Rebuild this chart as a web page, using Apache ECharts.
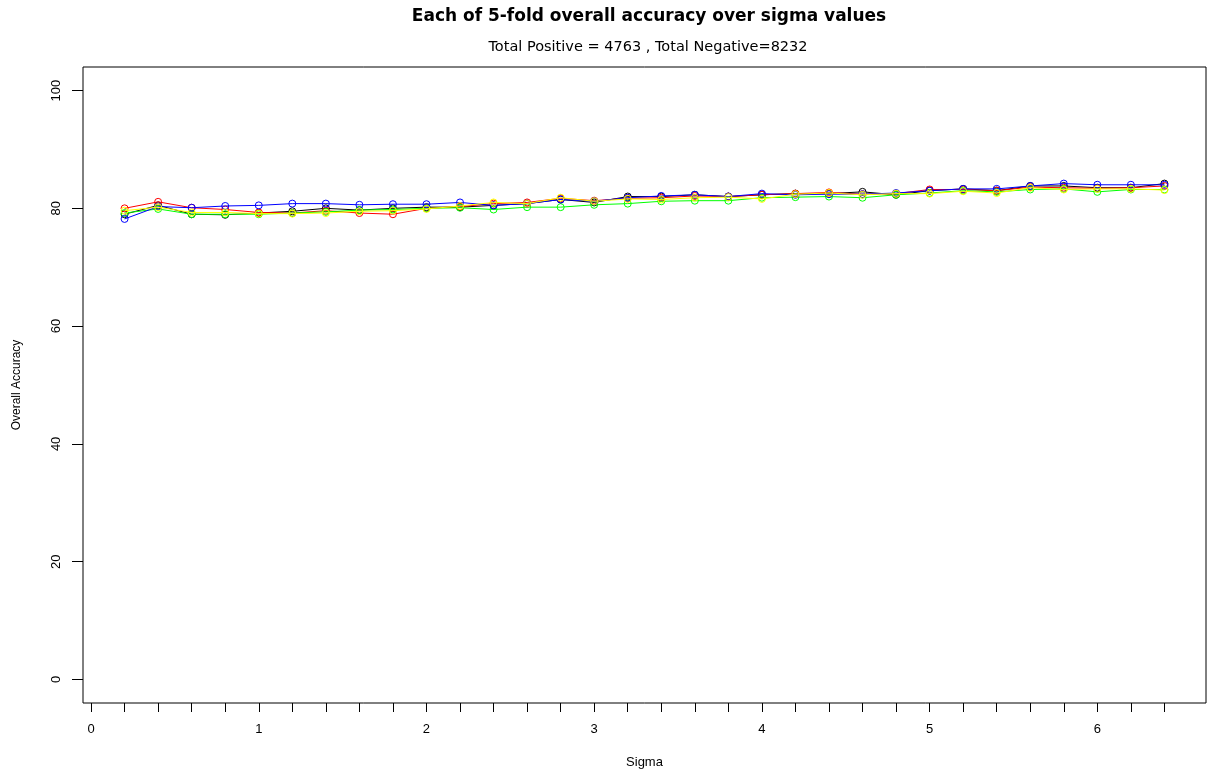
<!DOCTYPE html>
<html>
<head>
<meta charset="utf-8">
<script src="https://cdn.jsdelivr.net/npm/echarts@6/dist/echarts.min.js"></script>
<style>
  html, body { margin: 0; padding: 0; background: #fff; }
  #chart { width: 1212px; height: 774px; }
</style>
</head>
<body>
<div id="chart"></div>
<script>
// Sigma values evaluated in each fold
const sigma = [0.2, 0.4, 0.6, 0.8, 1.0, 1.2, 1.4, 1.6, 1.8, 2.0, 2.2, 2.4, 2.6, 2.8, 3.0, 3.2,
               3.4, 3.6, 3.8, 4.0, 4.2, 4.4, 4.6, 4.8, 5.0, 5.2, 5.4, 5.6, 5.8, 6.0, 6.2, 6.4];

// Overall accuracy (%) of each fold
const fold1 = [79.0, 80.5, 79.0, 78.9, 79.2, 79.5, 80.0, 79.7, 80.0, 80.2, 80.2, 80.5, 80.8, 81.5, 81.0, 82.0,
               82.0, 82.3, 82.0, 82.3, 82.5, 82.5, 82.8, 82.3, 83.0, 83.3, 83.0, 83.8, 83.8, 83.5, 83.5, 84.2];
const fold2 = [80.0, 81.1, 80.1, 79.8, 79.3, 79.2, 79.6, 79.2, 79.0, 80.0, 80.3, 80.8, 81.0, 81.7, 81.3, 81.7,
               81.8, 82.1, 82.0, 82.3, 82.5, 82.7, 82.4, 82.5, 83.2, 83.2, 83.0, 83.6, 83.5, 83.4, 83.5, 83.8];
const fold3 = [79.2, 79.9, 79.0, 79.0, 79.0, 79.2, 79.4, 79.7, 79.8, 80.0, 80.1, 79.8, 80.2, 80.2, 80.6, 80.8,
               81.2, 81.3, 81.3, 81.8, 81.9, 82.0, 81.8, 82.3, 82.6, 83.0, 82.8, 83.2, 83.3, 82.8, 83.2, 83.2];
const fold4 = [78.2, 80.3, 80.1, 80.4, 80.5, 80.8, 80.8, 80.6, 80.7, 80.7, 81.0, 80.5, 80.8, 81.5, 81.2, 81.8,
               82.1, 82.3, 82.0, 82.5, 82.3, 82.4, 82.4, 82.6, 83.0, 83.3, 83.3, 83.8, 84.2, 84.0, 84.0, 84.0];
const fold5 = [79.6, 80.2, 79.3, 79.3, 79.1, 79.1, 79.2, 79.5, 79.6, 79.9, 80.4, 81.0, 80.8, 81.8, 81.2, 81.6,
               81.5, 81.8, 81.9, 81.6, 82.4, 82.6, 82.3, 82.5, 82.5, 82.9, 82.6, 83.5, 83.2, 83.3, 83.3, 83.1];

const folds = [fold1, fold2, fold3, fold4, fold5];
const foldColors = ['#000000', '#ff0000', '#00ff00', '#0000ff', '#ffff00'];

// Axis ticks and labels
const xTickValues = [0, 0.2, 0.4, 0.6, 0.8, 1.0, 1.2, 1.4, 1.6, 1.8, 2.0, 2.2, 2.4, 2.6, 2.8, 3.0, 3.2,
                     3.4, 3.6, 3.8, 4.0, 4.2, 4.4, 4.6, 4.8, 5.0, 5.2, 5.4, 5.6, 5.8, 6.0, 6.2, 6.4];
const xLabelValues = [0, 1, 2, 3, 4, 5, 6];
const yLabelValues = [0, 20, 40, 60, 80, 100];

const FONT = '"Liberation Sans", Arial, sans-serif';
const TITLE_FONT = '"DejaVu Sans", "Liberation Sans", sans-serif';

const chart = echarts.init(document.getElementById('chart'), null, { renderer: 'canvas' });

const series = folds.map((vals, k) => ({
  type: 'line',
  data: sigma.map((s, i) => [s, vals[i]]),
  symbol: 'circle',
  symbolSize: 7,
  showSymbol: true,
  lineStyle: { color: foldColors[k], width: 1 },
  itemStyle: { color: 'rgba(0,0,0,0)', borderColor: foldColors[k], borderWidth: 1 },
  emphasis: { disabled: true },
  animation: false,
  z: 2 + k
}));

chart.setOption({
  backgroundColor: '#ffffff',
  animation: false,
  title: [
    {
      text: 'Each of 5-fold overall accuracy over sigma values',
      left: 644, top: 3, textAlign: 'center',
      textStyle: { fontFamily: TITLE_FONT, fontSize: 17, fontWeight: 'bold', color: '#000' }
    },
    {
      text: 'Total Positive = 4763 , Total Negative=8232',
      left: 643, top: 35, textAlign: 'center',
      textStyle: { fontFamily: TITLE_FONT, fontSize: 14.5, fontWeight: 'normal', color: '#000' }
    }
  ],
  grid: {
    left: 83, right: 6, top: 67, bottom: 71,
    show: true, borderColor: '#000', borderWidth: 1, backgroundColor: 'transparent'
  },
  xAxis: {
    type: 'value',
    min: -0.048, max: 6.648,
    name: 'Sigma',
    nameLocation: 'middle',
    nameGap: 53,
    nameTextStyle: { fontFamily: FONT, fontSize: 13, color: '#000' },
    axisLine: { show: false, onZero: false },
    axisTick: {
      show: true, length: 9, inside: false,
      customValues: xTickValues,
      lineStyle: { color: '#000', width: 1 }
    },
    axisLabel: {
      customValues: xLabelValues,
      margin: 20,
      fontFamily: FONT, fontSize: 13, color: '#000',
      formatter: v => String(v)
    },
    splitLine: { show: false }
  },
  yAxis: {
    type: 'value',
    min: -4, max: 104,
    name: 'Overall Accuracy',
    nameLocation: 'middle',
    nameGap: 60,
    nameRotate: 90,
    nameTextStyle: { fontFamily: FONT, fontSize: 12, color: '#000' },
    axisLine: { show: false, onZero: false },
    axisTick: {
      show: true, length: 11, inside: false,
      customValues: yLabelValues,
      lineStyle: { color: '#000', width: 1 }
    },
    axisLabel: {
      customValues: yLabelValues,
      rotate: 90,
      margin: 20,
      fontFamily: FONT, fontSize: 13, color: '#000',
      formatter: v => String(v)
    },
    splitLine: { show: false }
  },
  series: series
});
</script>
</body>
</html>
